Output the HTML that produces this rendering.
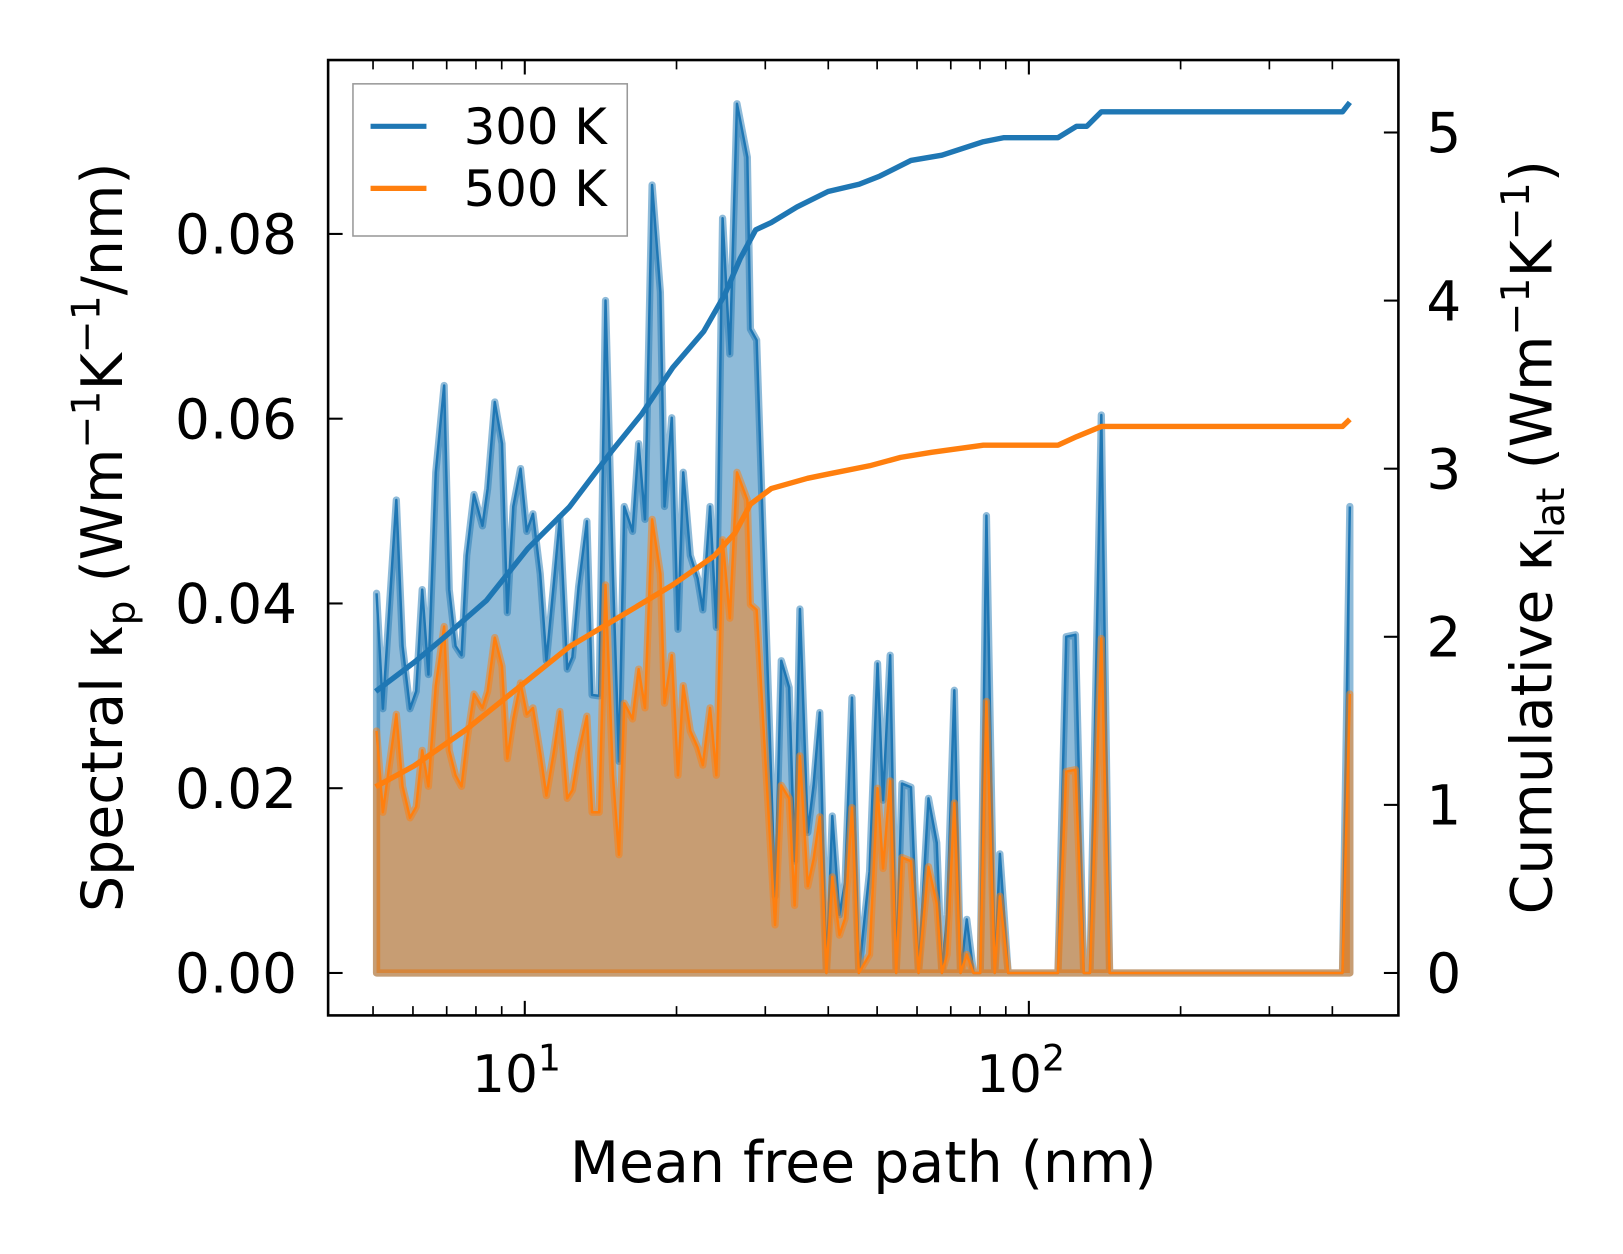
<!DOCTYPE html>
<html><head><meta charset="utf-8"><style>
html,body{margin:0;padding:0;background:#fff;}
svg{display:block;font-family:"DejaVu Sans","Liberation Sans",sans-serif;}
</style></head><body>
<svg id="chart" width="1623" height="1254" viewBox="0 0 1568 1211.5"></svg>
<script>
const mfp = [5.08,5.23,5.56,5.72,5.92,6.09,6.26,6.44,6.66,6.92,7.08,7.29,7.49,7.67,7.93,8.24,8.44,8.72,9.01,9.23,9.49,9.81,10.09,10.38,10.73,11.04,11.41,11.74,12.14,12.43,12.79,13.28,13.60,14.05,14.46,14.95,15.38,15.75,16.36,16.82,17.31,17.89,18.58,18.93,19.57,20.13,20.62,21.30,22.02,22.55,23.31,23.99,24.68,25.51,26.36,27.64,28.03,28.84,
31.37,32.27,33.45,34.30,35.14,36.43,37.41,38.48,39.66,40.74,42.10,43.19,44.57,45.98,48.30,50.09,51.36,53.08,54.54,56.01,58.36,60.42,63.21,65.64,67.22,68.83,71.15,73.19,75.30,77.64,80.07,82.37,85.54,87.59,90.97,114.2,118.6,123.7,128.5,132.2,139.2,144.6,419.0,433.2];
const spec300 = [.0411,.0286,.0512,.0354,.0286,.0305,.0415,.0323,.0542,.0636,.0415,.0354,.0344,.0452,.0518,.0484,.0524,.0618,.0573,.0390,.0505,.0546,.0478,.0497,.0432,.0338,.0420,.0493,.0329,.0342,.0418,.0489,.0301,.0300,.0728,.0432,.0229,.0505,.0478,.0573,.0491,.0853,.0737,.0505,.0601,.0372,.0542,.0452,.0427,.0393,.0505,.0374,.0817,.0670,.0941,.0883,.0697,.0685,
.0083,.0338,.0309,.0121,.0394,.0152,.0203,.0282,0,.0170,.0063,.0098,.0298,0,.0110,.0335,.0187,.0344,0,.0205,.0201,0,.0189,.0141,0,.0063,.0306,0,.0058,0,0,.0495,0,.0129,0,0,.0364,.0366,0,0,.0604,0,0,.0505];
const spec500 = [.0262,.0174,.0280,.0202,.0168,.0180,.0241,.0202,.0311,.0375,.0241,.0214,.0202,.0250,.0302,.0287,.0305,.0363,.0332,.0232,.0275,.0314,.0280,.0287,.0238,.0192,.0238,.0283,.0189,.0198,.0238,.0278,.0174,.0174,.0420,.0214,.0128,.0292,.0275,.0329,.0287,.0491,.0432,.0292,.0344,.0214,.0311,.0262,.0244,.0225,.0287,.0214,.0469,.0384,.0542,.0512,.0399,.0393,
.0052,.0203,.0189,.0073,.0235,.0094,.0123,.0169,0,.0104,.0041,.0059,.0179,0,.0020,.0200,.0113,.0208,0,.0125,.0121,0,.0115,.0075,0,.0020,.0184,0,.0020,0,0,.0294,0,.0083,0,0,.0218,.0220,0,0,.0362,0,0,.0302];
const cumX300 = [5.06,6.03,6.95,8.40,10.14,12.25,14.81,17.06,19.66,22.66,24.91,26.74,28.71,30.82,34.67,39.96,46.05,50.63,58.36,67.22,81.22,89.29,114.2,124.3,130.3,139.2,419.0,433.2];
const cum300 = [1.675,1.847,2.001,2.217,2.525,2.771,3.097,3.325,3.602,3.818,4.033,4.249,4.421,4.464,4.557,4.649,4.692,4.741,4.834,4.865,4.945,4.969,4.969,5.037,5.037,5.123,5.123,5.179];
const cumX500 = [5.06,6.03,7.64,9.67,12.25,15.52,19.66,23.76,26.12,28.03,30.82,36.37,39.96,48.30,55.66,64.12,81.22,114.2,124.3,139.2,419.0,433.2];
const cum500 = [1.108,1.232,1.447,1.693,1.940,2.124,2.309,2.481,2.617,2.789,2.882,2.943,2.968,3.017,3.067,3.097,3.140,3.140,3.190,3.251,3.251,3.294];
const leftTicks = [0,0.02,0.04,0.06,0.08];
const leftTickLabels = ["0.00","0.02","0.04","0.06","0.08"];
const rightTicks = [0,1,2,3,4,5];
const majorX = [10,100];
const minorX = [5,6,7,8,9,20,30,40,50,60,70,80,90,200,300,400];

const NS="http://www.w3.org/2000/svg";
const svg=document.getElementById('chart');
const L=317,R=1351,T=58,B=981;
const xs=v=>507+(Math.log10(v)-1)*487;
const yl=v=>940-v*8925;
const yr=v=>940-v*162.4;
function mk(tag,attrs,parent){const e=document.createElementNS(NS,tag);for(const k in attrs)e.setAttribute(k,attrs[k]);(parent||svg).appendChild(e);return e;}

function area(vals,fill,stroke,name){
  const g=mk('g',{});
  
  
  let pts=mfp.map((m,i)=>xs(m).toFixed(1)+','+yl(vals[i]).toFixed(1));
  const d='M'+xs(mfp[0]).toFixed(1)+','+yl(0)+' L'+pts.join(' L')+' L'+xs(mfp[mfp.length-1]).toFixed(1)+','+yl(0)+' Z';
  const a=mk('path',{d:d,fill:fill,stroke:'none'},g);
  
  
  const w=mk('path',{d:d,fill:'none',stroke:stroke,'stroke-width':7,'stroke-opacity':0.5,'stroke-linejoin':'round'},g);
  
  
  const l=mk('path',{d:'M'+pts.join(' L'),fill:'none',stroke:stroke,'stroke-width':2.4,'stroke-linejoin':'round'},g);
  
  
}
area(spec300,'rgba(31,119,180,0.5)','#1f77b4','spectral-300k');
area(spec500,'rgba(255,127,14,0.5)','#ff7f0e','spectral-500k');

function cum(xv,yv,color,name){
  const d='M'+xv.map((m,i)=>xs(m).toFixed(1)+','+yr(yv[i]).toFixed(1)).join(' L');
  const p=mk('path',{d:d,fill:'none',stroke:color,'stroke-width':5.2,'stroke-linejoin':'round'});
  
  
}
cum(cumX300,cum300,'#1f77b4','cumulative-300k');
cum(cumX500,cum500,'#ff7f0e','cumulative-500k');

const frame=mk('rect',{x:L,y:T,width:R-L,height:B-T,fill:'none',stroke:'#000','stroke-width':2.5});



majorX.forEach(v=>{const x=xs(v);
  const t=mk('path',{d:`M${x},${B} v-14 M${x},${T} v14`,stroke:'#000','stroke-width':2});
  
  
  const tx=mk('text',{x:x-8,y:1055,'font-size':50,'text-anchor':'middle'});
  
  
  tx.innerHTML='10<tspan dy="-21" font-size="35">'+Math.round(Math.log10(v))+'</tspan>';
});
minorX.forEach(v=>{const x=xs(v);
  const t=mk('path',{d:`M${x},${B} v-9 M${x},${T} v9`,stroke:'#000','stroke-width':1.6});
  
  
});
leftTicks.forEach((v,i)=>{const y=yl(v);
  const t=mk('path',{d:`M${L},${y} h14`,stroke:'#000','stroke-width':2});
  
  
  const tx=mk('text',{x:287,y:y+19,'font-size':53,'text-anchor':'end'});
  
  
  tx.textContent=leftTickLabels[i];
});
rightTicks.forEach(v=>{const y=yr(v);
  const t=mk('path',{d:`M${R},${y} h-14`,stroke:'#000','stroke-width':2});
  
  
  const tx=mk('text',{x:1378,y:y+19,'font-size':53});
  
  
  tx.textContent=String(v);
});
</script>
<script>
(function(){
const NS="http://www.w3.org/2000/svg";const svg=document.getElementById('chart');
function mk(tag,attrs,parent){const e=document.createElementNS(NS,tag);for(const k in attrs)e.setAttribute(k,attrs[k]);(parent||svg).appendChild(e);return e;}
const xl=mk('text',{x:834,y:1142,'font-size':55,'text-anchor':'middle'});


xl.textContent='Mean free path (nm)';
const yl=mk('text',{transform:'translate(118,519) rotate(-90)','font-size':55,'text-anchor':'middle'});


yl.innerHTML='Spectral κ<tspan dy="12" font-size="38">p</tspan><tspan dy="-12"> (Wm</tspan><tspan dy="-22" font-size="38">−1</tspan><tspan dy="22">K</tspan><tspan dy="-22" font-size="38">−1</tspan><tspan dy="22">/nm)</tspan>';
const yr=mk('text',{transform:'translate(1499,519) rotate(-90)','font-size':55,'text-anchor':'middle'});


yr.innerHTML='Cumulative κ<tspan dy="12" font-size="38">lat</tspan><tspan dy="-12"> (Wm</tspan><tspan dy="-22" font-size="38">−1</tspan><tspan dy="22">K</tspan><tspan dy="-22" font-size="38">−1</tspan><tspan dy="22">)</tspan>';
const lg=mk('g',{});


mk('rect',{x:341,y:81,width:265,height:147,fill:'#fff','fill-opacity':0.8,stroke:'#999','stroke-width':1.5},lg);
[['#1f77b4','300 K',122],['#ff7f0e','500 K',182]].forEach(([c,t,y])=>{
  const e=mk('g',{},lg);
  
  
  mk('path',{d:`M358,${y} h54`,stroke:c,'stroke-width':5},e);
  const tx=mk('text',{x:448,y:y+17,'font-size':48},e);
  tx.textContent=t;
});
})();
</script>
</body></html>
